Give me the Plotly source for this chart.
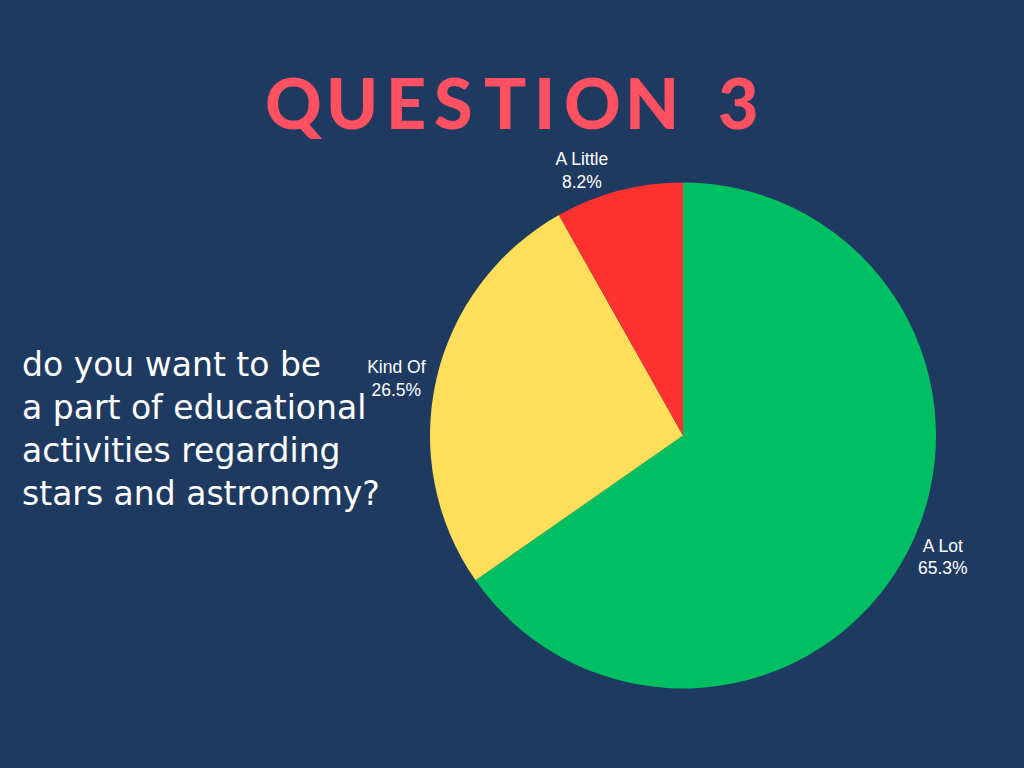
import plotly.graph_objects as go

labels = ["A Lot", "Kind Of", "A Little"]
counts = [32, 13, 4]
colors = ["#00BF63", "#FFDE59", "#FF3131"]

title_text = "QUESTION 3"
question_lines = ["do you want to be", "a part of educational", "activities regarding", "stars and astronomy?"]

bg = "#1F3A60"

fig = go.Figure()
fig.add_trace(go.Pie(
    labels=labels,
    values=counts,
    marker=dict(colors=colors, line=dict(width=0)),
    sort=False,
    direction="clockwise",
    rotation=0,
    texttemplate="%{label}<br>%{percent:.1%}",
    textposition="outside",
    textfont=dict(family="Liberation Sans, Arial", size=17.5, color="white"),
    showlegend=False,
    hoverinfo="label+percent",
    domain=dict(x=[(683 - 253) / 1024, (683 + 253) / 1024],
                y=[(332.5 - 253) / 768, (332.5 + 253) / 768]),
))

# Title drawn letter by letter to reproduce the wide letter spacing
letter_centers = [294, 352, 406, 453, 505, 544, 592, 652, None, 738]
for ch, cx in zip(title_text, letter_centers):
    if ch == " " or cx is None:
        continue
    fig.add_annotation(
        text=ch, x=cx / 1024, y=1 - 102 / 768, xref="paper", yref="paper",
        xanchor="center", yanchor="middle", showarrow=False,
        font=dict(family="Lato", size=70, color="#FF5161", weight=900),
    )

fig.add_annotation(
    text="<br>".join(question_lines), x=20 / 1024, y=1 - 429 / 768,
    xref="paper", yref="paper", xanchor="left", yanchor="middle", align="left",
    showarrow=False,
    font=dict(family="DejaVu Sans", size=33, color="white"),
)

fig.update_layout(
    width=1024, height=768,
    margin=dict(l=0, r=0, t=0, b=0),
    paper_bgcolor=bg, plot_bgcolor=bg,
)

fig.write_html("out.html")
